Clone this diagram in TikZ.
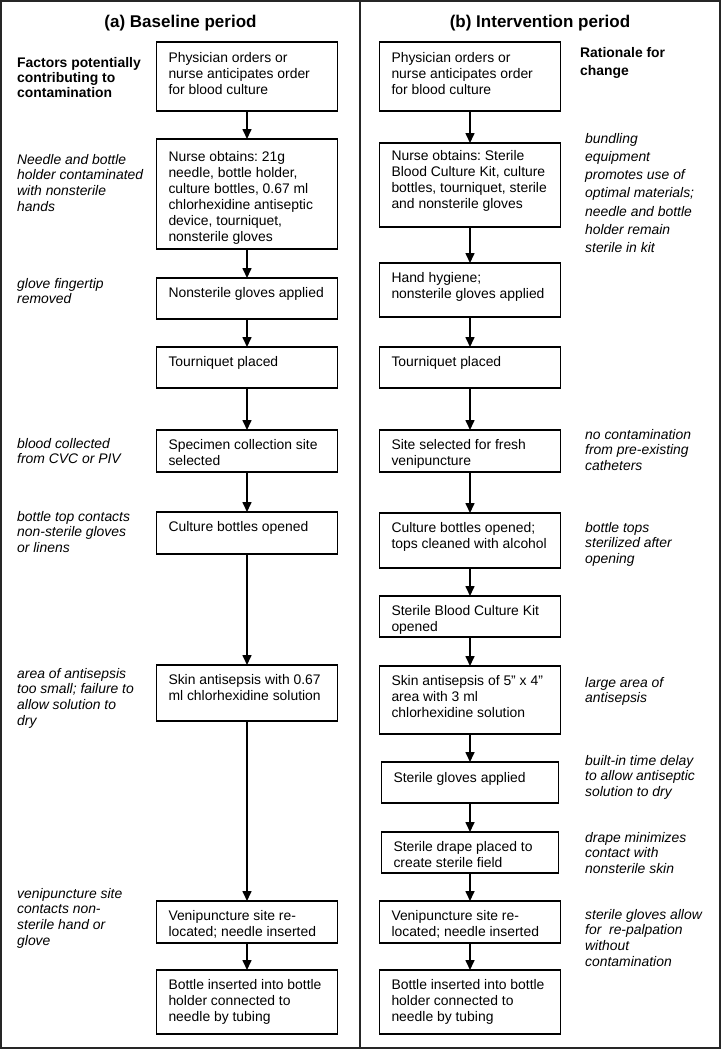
\documentclass[tikz,border=0pt]{standalone}
\usepackage{fontspec}
\setmainfont{Liberation Sans}
\usetikzlibrary{positioning,arrows.meta}
\frenchspacing

\begin{document}
\begin{tikzpicture}[x=1pt,y=1pt,
    stepbox/.style={draw,line width=1.6pt,outer sep=0pt,inner xsep=12pt,inner ysep=0pt,text width=157pt,align=flush left,text height=19pt,font=\fontsize{13.9}{16}\selectfont},
    note/.style={anchor=base west,inner sep=0pt,text width=135pt,align=flush left,font=\fontsize{13.9}{15.8}\selectfont\itshape},
    head/.style={anchor=base west,inner sep=0pt,text width=140pt,align=flush left,font=\fontsize{13.9}{15.3}\selectfont\bfseries},
    title/.style={anchor=base,inner sep=0pt,font=\fontsize{17}{20}\selectfont\bfseries},
    flow/.style={line width=1.6pt,-{Triangle[length=10pt,width=9pt]}}]
  \useasboundingbox (0,0) rectangle (724,-1050);
  \draw[line width=1.5pt,black!85] (1,-1) rectangle (720,-1048);
  \draw[line width=1.5pt,black!85] (360,-1) -- (360,-1048);

  \node[title](ta) at (180.5,-27){(a) Baseline period};
  \node[title](tb) at (540,-27){(b) Intervention period};

  \node[stepbox,anchor=north,text height=20pt,text depth=49pt](l1) at (247,-42){Physician orders or\\nurse anticipates order\\for blood culture};
  \node[stepbox,below=28pt of l1,text height=22pt,text depth=88pt](l2){Nurse obtains: 21g\\needle, bottle holder,\\culture bottles, 0.67 ml\\chlorhexidine antiseptic\\device, tourniquet,\\nonsterile gloves};
  \node[stepbox,below=29pt of l2,text depth=22pt](l3){Nonsterile gloves applied};
  \node[stepbox,below=28pt of l3,text depth=22pt](l4){Tourniquet placed};
  \node[stepbox,below=42pt of l4,text depth=23pt](l5){Specimen collection site\\selected};
  \node[stepbox,below=40pt of l5,text depth=23pt](l6){Culture bottles opened};
  \node[stepbox,below=111pt of l6,text depth=37pt](l7){Skin antisepsis with 0.67\\ml chlorhexidine solution};
  \node[stepbox,below=180pt of l7,text depth=23pt](l8){Venipuncture site re-\\located; needle inserted};
  \node[stepbox,below=27pt of l8,text depth=45pt](l9){Bottle inserted into bottle\\holder connected to\\needle by tubing};

  \node[stepbox,anchor=north,text height=20pt,text depth=49pt](r1) at (470,-42){Physician orders or\\nurse anticipates order\\for blood culture};
  \node[stepbox,below=32pt of r1,text height=17pt,text depth=67pt](r2){Nurse obtains: Sterile\\Blood Culture Kit, culture\\bottles, tourniquet, sterile\\and nonsterile gloves};
  \node[stepbox,below=36pt of r2,text depth=35pt](r3){Hand hygiene;\\nonsterile gloves applied};
  \node[stepbox,below=30pt of r3,text depth=22pt](r4){Tourniquet placed};
  \node[stepbox,below=42pt of r4,text depth=23pt](r5){Site selected for fresh\\venipuncture};
  \node[stepbox,below=41pt of r5,text depth=36pt](r6){Culture bottles opened;\\tops cleaned with alcohol};
  \node[stepbox,below=28pt of r6,text depth=22pt](r7){Sterile Blood Culture Kit\\opened};
  \node[stepbox,below=29pt of r7,text depth=49pt](r8){Skin antisepsis of 5'' x 4''\\area with 3 ml\\chlorhexidine solution};
  \node[stepbox,below=28pt of r8,text width=153pt,text height=20pt,text depth=21pt](r9){Sterile gloves applied};
  \node[stepbox,below=29pt of r9,text width=153pt,text depth=22pt](r10){Sterile drape placed to\\create sterile field};
  \node[stepbox,below=28pt of r10,text depth=23pt](r11){Venipuncture site re-\\located; needle inserted};
  \node[stepbox,below=27pt of r11,text depth=45pt](r12){Bottle inserted into bottle\\holder connected to\\needle by tubing};

  \foreach \a/\b in {l1/l2,l2/l3,l3/l4,l4/l5,l5/l6,l6/l7,l7/l8,l8/l9,
                     r1/r2,r2/r3,r3/r4,r4/r5,r5/r6,r6/r7,r7/r8,r8/r9,r9/r10,r10/r11,r11/r12}
    \draw[flow] (\a) -- (\b);

  \node[head](hl) at (17,-67){Factors potentially\\contributing to\\contamination};
  \node[note](nl1) at (17,-164){Needle and bottle\\holder contaminated\\with nonsterile\\hands};
  \node[note](nl2) at (17,-288){glove fingertip\\removed};
  \node[note](nl3) at (17,-448){blood collected\\from CVC or PIV};
  \node[note](nl4) at (17,-521){bottle top contacts\\non-sterile gloves\\or linens};
  \node[note](nl5) at (17,-678){area of antisepsis\\too small; failure to\\allow solution to\\dry};
  \node[note](nl6) at (17,-898){venipuncture site\\contacts non-\\sterile hand or\\glove};

  \node[head,font=\fontsize{13.9}{18}\selectfont\bfseries](hr) at (580,-57){Rationale for\\change};
  \node[note,text width=130pt,font=\fontsize{13.9}{18.3}\selectfont\itshape](nr1) at (585,-143){bundling\\equipment\\promotes use of\\optimal materials;\\needle and bottle\\holder remain\\sterile in kit};
  \node[note,text width=130pt](nr2) at (585,-439){no contamination\\from pre-existing\\catheters};
  \node[note,text width=130pt](nr3) at (585,-532){bottle tops\\sterilized after\\opening};
  \node[note,text width=130pt](nr4) at (585,-687){large area of\\antisepsis};
  \node[note,text width=130pt](nr5) at (585,-765){built-in time delay\\to allow antiseptic\\solution to dry};
  \node[note,text width=130pt](nr6) at (585,-842){drape minimizes\\contact with\\nonsterile skin};
  \node[note,text width=130pt](nr7) at (585,-919){sterile gloves allow\\for~ re-palpation\\without\\contamination};
\end{tikzpicture}
\end{document}
